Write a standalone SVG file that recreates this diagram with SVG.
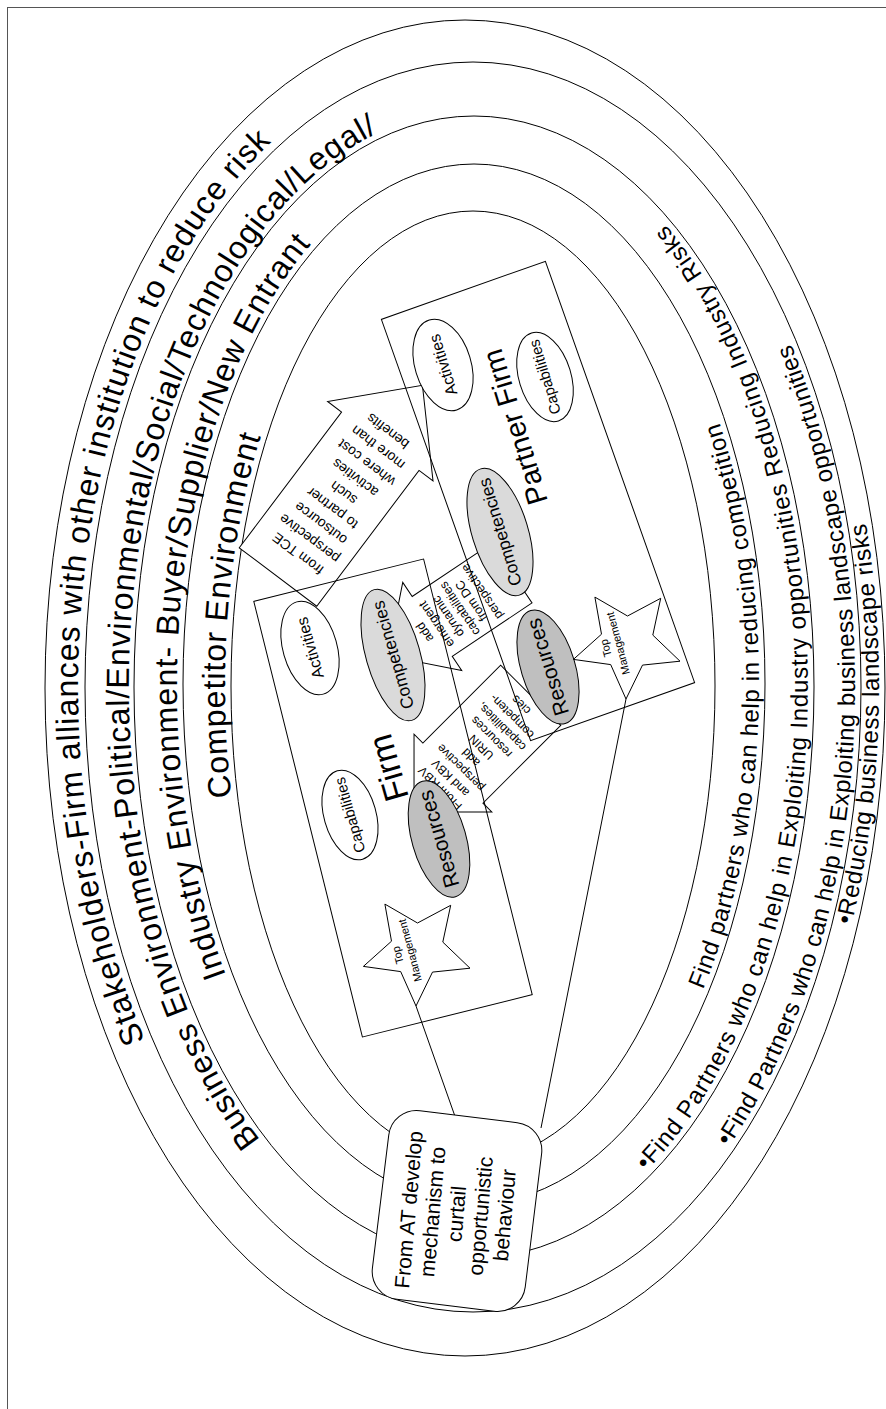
<svg xmlns="http://www.w3.org/2000/svg" width="886" height="1409" viewBox="0 0 886 1409">
<style>
  .ln{fill:none;stroke:#000;stroke-width:1}
  .wf{fill:#fff;stroke:#000;stroke-width:1}
  .cmp{fill:#dadada;stroke:#000;stroke-width:1}
  .res{fill:#bfbfbf;stroke:#000;stroke-width:1}
  text{font-family:"Liberation Sans",Arial,sans-serif;fill:#000}
  .ringL{font-size:32px}
  .ringR{font-size:24px}
  .mid{text-anchor:middle}
</style>
<defs>
  <path id="b1l" d="M145.0,1040.3 A392,632 0 0 1 415.5,61.2"/>
  <path id="b2l" d="M260.1,1139.9 A345,577 0 0 1 504.1,112.2"/>
  <path id="b3l" d="M226.0,975.1 A297,527 0 0 1 422.4,166.0"/>
  <path id="b4l" d="M231.6,796.9 A248,482 0 0 1 349,268.6"/>
  <path id="b1r" d="M851.5,925.3 A414,662 0 0 0 258,114.7"/>
  <path id="b2r" d="M728.6,1147.0 A382,619 0 0 0 342.4,105.3"/>
  <path id="b3r" d="M646.0,1171.3 A334,565 0 0 0 359.8,156.1"/>
  <path id="b4r" d="M703.1,989.7 A285,514 0 0 0 376.5,201.0"/>
  <polygon id="star" points="-32.1,-45.9 0.5,-27 33.7,-44.7 25.8,-7.9 53,18.2 15.5,22.1 -1,56 -16.3,21.6 -53.6,16.4 -25.5,-8.8"/>
</defs>

<rect x="7.5" y="7.5" width="900" height="1420" fill="none" stroke="#555" stroke-width="1"/>

<g id="rings">
  <ellipse class="ln" cx="465" cy="688" rx="420" ry="668"/>
  <ellipse class="ln" cx="473" cy="687" rx="388" ry="625"/>
  <ellipse class="ln" cx="474" cy="687" rx="340" ry="571"/>
  <ellipse class="ln" cx="474" cy="684" rx="291" ry="520"/>
  <ellipse class="ln" cx="473" cy="686" rx="242" ry="475"/>
</g>

<g id="ring-labels">
  <text class="ringL"><textPath href="#b1l" textLength="955" lengthAdjust="spacing">Stakeholders-Firm alliances with other institution to reduce risk</textPath></text>
  <text class="ringL"><textPath href="#b2l" textLength="1115" lengthAdjust="spacing">Business Environment-Political/Environmental/Social/Technological/Legal/</textPath></text>
  <text class="ringL"><textPath href="#b3l" textLength="765" lengthAdjust="spacing">Industry Environment- Buyer/Supplier/New Entrant</textPath></text>
  <text class="ringL"><textPath href="#b4l" textLength="364" lengthAdjust="spacing">Competitor Environment</textPath></text>
  <text class="ringR"><textPath href="#b1r" textLength="405" lengthAdjust="spacing">•Reducing business landscape risks</textPath></text>
  <text class="ringR"><textPath href="#b2r" textLength="835" lengthAdjust="spacing">•Find Partners who can help in Exploiting business landscape opportunities</textPath></text>
  <text class="ringR"><textPath href="#b3r" textLength="1015" lengthAdjust="spacing">•Find Partners who can help in Exploiting Industry opportunities Reducing Industry Risks</textPath></text>
  <text class="ringR"><textPath href="#b4r" textLength="578" lengthAdjust="spacing">Find partners who can help in reducing competition</textPath></text>
</g>

<g id="connectors">
  <line class="ln" x1="416" y1="1006" x2="457" y2="1122"/>
  <line class="ln" x1="626" y1="699" x2="541" y2="1128"/>
</g>

<g id="at-box">
  <rect class="wf" x="-77" y="-95" width="154" height="190" rx="28" ry="28" transform="translate(457,1211) rotate(7)"/>
  <text class="mid" font-size="21" transform="translate(457,1211) rotate(-85)">
    <tspan x="0" y="-41">From AT develop</tspan>
    <tspan x="0" y="-17">mechanism to</tspan>
    <tspan x="0" y="7">curtail</tspan>
    <tspan x="0" y="31">opportunistic</tspan>
    <tspan x="0" y="55">behaviour</tspan>
  </text>
</g>

<g id="arrow-tce">
  <polygon class="wf" points="0,-48.5 170,-48.5 170,-66 240,0 170,66 170,48.5 0,48.5" transform="translate(278,577) rotate(-53)"/>
  <text class="mid" font-size="14" transform="translate(342,492) rotate(-143)">
    <tspan x="0" y="-71">from TCE</tspan>
    <tspan x="0" y="-52">perspective</tspan>
    <tspan x="0" y="-33">outsource</tspan>
    <tspan x="0" y="-14">to partner</tspan>
    <tspan x="0" y="5">such</tspan>
    <tspan x="0" y="24">activities</tspan>
    <tspan x="0" y="43">where cost</tspan>
    <tspan x="0" y="62">more than</tspan>
    <tspan x="0" y="81">benefits</tspan>
  </text>
</g>

<g id="arrow-dc">
  <polygon class="wf" points="0,-36 96,-36 96,-53 149,0 96,53 96,36 0,36" transform="translate(512,573) rotate(146.2)"/>
  <text class="mid" font-size="12.5" transform="translate(453,611) rotate(-124)">
    <tspan x="0" y="-31">add</tspan>
    <tspan x="0" y="-17">emergent</tspan>
    <tspan x="0" y="-3">dynamic</tspan>
    <tspan x="0" y="11">capabilities</tspan>
    <tspan x="0" y="25">from DC</tspan>
    <tspan x="0" y="39">perspective</tspan>
  </text>
</g>

<g id="arrow-kbv">
  <polygon class="wf" points="0,-42.5 110,-42.5 110,-55 165,0 110,55 110,42.5 0,42.5" transform="translate(530.7,695.3) rotate(135)"/>
  <text class="mid" font-size="12" transform="translate(480,746) rotate(-135)">
    <tspan x="0" y="-54">From RBV</tspan>
    <tspan x="0" y="-39.5">and KBV</tspan>
    <tspan x="0" y="-25">perspective</tspan>
    <tspan x="0" y="-10.5">add</tspan>
    <tspan x="0" y="4">URIN</tspan>
    <tspan x="0" y="18.5">resources</tspan>
    <tspan x="0" y="33">capabilities,</tspan>
    <tspan x="0" y="47.5">competen-</tspan>
    <tspan x="0" y="62">cies</tspan>
  </text>
</g>

<g id="firm">
  <rect class="ln" x="-224.5" y="-87.5" width="449" height="175" transform="translate(393,798) rotate(-104)"/>
  <text class="mid" font-size="34" transform="translate(388,768) rotate(-106)" y="12">Firm</text>
</g>

<g id="partner-firm">
  <rect class="ln" x="-223.5" y="-87" width="447" height="174" transform="translate(538,501) rotate(-109.5)"/>
  <text class="mid" font-size="29" transform="translate(515,427) rotate(-107)" y="10">Partner Firm</text>
</g>

<g id="firm-activities" transform="translate(310,648) rotate(-106)">
  <ellipse class="wf" rx="48" ry="27"/>
  <text class="mid" font-size="16" y="5.6">Activities</text>
</g>
<g id="firm-competencies" transform="translate(393,655) rotate(-106)">
  <ellipse class="cmp" rx="68" ry="27"/>
  <text class="mid" font-size="17.5" y="6">Competencies</text>
</g>
<g id="firm-capabilities" transform="translate(350,815) rotate(-106)">
  <ellipse class="wf" rx="46" ry="26"/>
  <text class="mid" font-size="15" y="5">Capabilities</text>
</g>
<g id="firm-resources" transform="translate(439,839) rotate(-106)">
  <ellipse class="res" rx="60" ry="27"/>
  <text class="mid" font-size="21" y="7">Resources</text>
</g>
<g id="firm-top-management">
  <use href="#star" transform="translate(417,950)" fill="#fff" stroke="#000"/>
  <text class="mid" font-size="11" transform="translate(404,952) rotate(-105)">
    <tspan x="0" y="-3">Top</tspan>
    <tspan x="0" y="10">Management</tspan>
  </text>
</g>

<g id="partner-activities" transform="translate(443,365) rotate(-107)">
  <ellipse class="wf" rx="47" ry="28"/>
  <text class="mid" font-size="16" y="5.6">Activities</text>
</g>
<g id="partner-capabilities" transform="translate(545,377) rotate(-107)">
  <ellipse class="wf" rx="46" ry="26"/>
  <text class="mid" font-size="15" y="5">Capabilities</text>
</g>
<g id="partner-competencies" transform="translate(500,532) rotate(-107)">
  <ellipse class="cmp" rx="66" ry="28"/>
  <text class="mid" font-size="17.5" y="6">Competencies</text>
</g>
<g id="partner-resources" transform="translate(548,667) rotate(-107)">
  <ellipse class="res" rx="59" ry="27"/>
  <text class="mid" font-size="21" y="7">Resources</text>
</g>
<g id="partner-top-management">
  <use href="#star" transform="translate(627,643)" fill="#fff" stroke="#000"/>
  <text class="mid" font-size="11" transform="translate(612,645) rotate(-105)">
    <tspan x="0" y="-3">Top</tspan>
    <tspan x="0" y="10">Management</tspan>
  </text>
</g>
</svg>
